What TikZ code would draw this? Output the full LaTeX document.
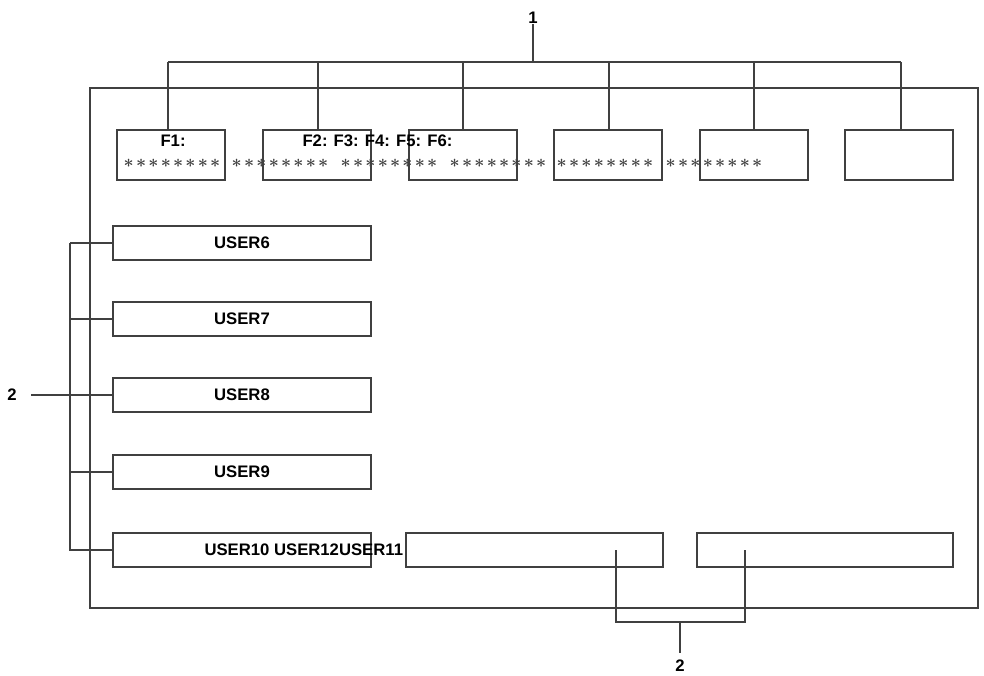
\documentclass[tikz,border=0pt]{standalone}
\usepackage{fontspec}
\setmainfont{Liberation Sans}
\begin{document}
\begin{tikzpicture}[x=0.02cm,y=-0.02cm,line width=0.6pt,draw=black!75,
    lbl/.style={font=\fontsize{9.5}{11}\selectfont\bfseries,inner sep=0pt},
    stars/.style={inner sep=0pt,text=black!75,font=\boldmath}]
      \useasboundingbox (0,0) rectangle (984,676);
      \draw (90,88) rectangle (978,608);
      % top row
      \foreach \x/\n in{117/f1,263/f2,409/f3,554/f4,700/f5,845/f6}{
        \draw (\x,130) rectangle ++(108,50);
        \coordinate (\n) at (\x+54,130);
      }
      \node[lbl] (one) at (533,18){1};
      \coordinate (top) at (533,62);
      \draw (one) -- (top) (168,62) -- (901,62);
      \foreach \x in{168,318,463,609,754,901}{\draw (\x,62) -- (\x,130);}
      \node[lbl,anchor=west] (fa) at (160,141){F1:};
      \node[lbl,anchor=west] (fb) at (302,141){F2: F3: F4: F5: F6:};
      \foreach \x in{172,280,389,498,605,714}{
        \node[stars] at (\x,163){${\ast}\mskip2mu{\ast}\mskip2mu{\ast}\mskip2mu{\ast}\mskip2mu{\ast}\mskip2mu{\ast}\mskip2mu{\ast}\mskip2mu{\ast}$};
      }
      % left column
      \foreach \y/\t in{226/USER6,302/USER7,378/USER8,455/USER9}{
        \draw (113,\y) rectangle (371,\y+34);
        \node[lbl] at (242,\y+17){\t};
        \draw (70,\y+17) -- (113,\y+17);
      }
      \draw (113,533) rectangle (371,567) (406,533) rectangle (663,567) (697,533) rectangle (953,567);
      \node[lbl,anchor=west] (u10) at (204,550){USER10 USER12USER11};
      \draw (70,243) -- (70,550) -- (113,550);
      \node[lbl] (two) at (12,395){2};
      \draw (two.east) ++(14,0) -- (70,395);
      % bottom bracket
      \draw (616,550) -- (616,622) -- (745,622) -- (745,550);
      \node[lbl] (twob) at (680,666){2};
      \draw (680,622) -- (680,653);
\end{tikzpicture}
\end{document}
